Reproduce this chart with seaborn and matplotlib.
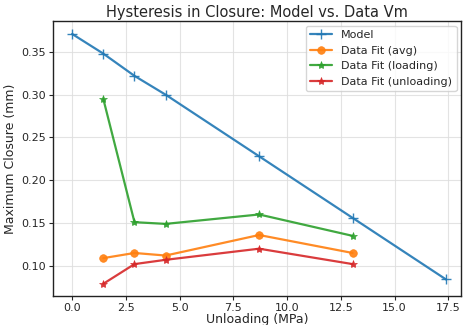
import matplotlib
matplotlib.use("Agg")
import matplotlib.pyplot as plt
import seaborn as sns
import pandas as pd

model_x = [0.0, 1.45, 2.9, 4.35, 8.7, 13.05, 17.4]
model_y = [0.371, 0.348, 0.322, 0.300, 0.228, 0.156, 0.084]
data_x = [1.45, 2.9, 4.35, 8.7, 13.05]
avg_y = [0.109, 0.115, 0.112, 0.136, 0.115]
loading_y = [0.295, 0.151, 0.149, 0.160, 0.135]
unloading_y = [0.079, 0.102, 0.107, 0.120, 0.102]

sns.set_style("ticks")
plt.rcParams['font.family'] = ['DejaVu Sans']

fig, ax = plt.subplots(figsize=(4.63, 3.25), dpi=100)
pal = sns.color_palette("tab10")

series = [
    ("Model", model_x, model_y, "+", 7),
    ("Data Fit (avg)", data_x, avg_y, "o", 5.5),
    ("Data Fit (loading)", data_x, loading_y, "*", 6),
    ("Data Fit (unloading)", data_x, unloading_y, "*", 6),
]
for i, (name, xs, ys, mk, ms) in enumerate(series):
    df = pd.DataFrame({"x": xs, "y": ys})
    sns.lineplot(data=df, x="x", y="y", ax=ax, color=pal[i], marker=mk,
                 markersize=ms, linewidth=1.6, label=name, alpha=0.9,
                 markeredgecolor=pal[i], markeredgewidth=1.0 if mk == "+" else 0.5)

ax.grid(True, color="#dddddd", linewidth=0.8, alpha=0.8)
ax.set_xlim(-0.88, 18.1)
ax.set_ylim(0.065, 0.386)
ax.set_xticks([0, 2.5, 5, 7.5, 10, 12.5, 15, 17.5])
ax.set_yticks([0.10, 0.15, 0.20, 0.25, 0.30, 0.35])
ax.tick_params(labelsize=8, length=3, pad=2)
ax.set_xlabel("Unloading (MPa)", fontsize=9, labelpad=0)
ax.set_ylabel("Maximum Closure (mm)", fontsize=9, labelpad=3)
ax.set_title("Hysteresis in Closure: Model vs. Data Vm", fontsize=10.5, pad=3)
for s in ax.spines.values():
    s.set_color("#222222")
    s.set_linewidth(1.0)
leg = ax.legend(loc="upper right", fontsize=8, frameon=True, borderaxespad=0.4)

fig.subplots_adjust(left=0.115, right=0.996, top=0.935, bottom=0.09)
fig.savefig("out.png", dpi=100)
